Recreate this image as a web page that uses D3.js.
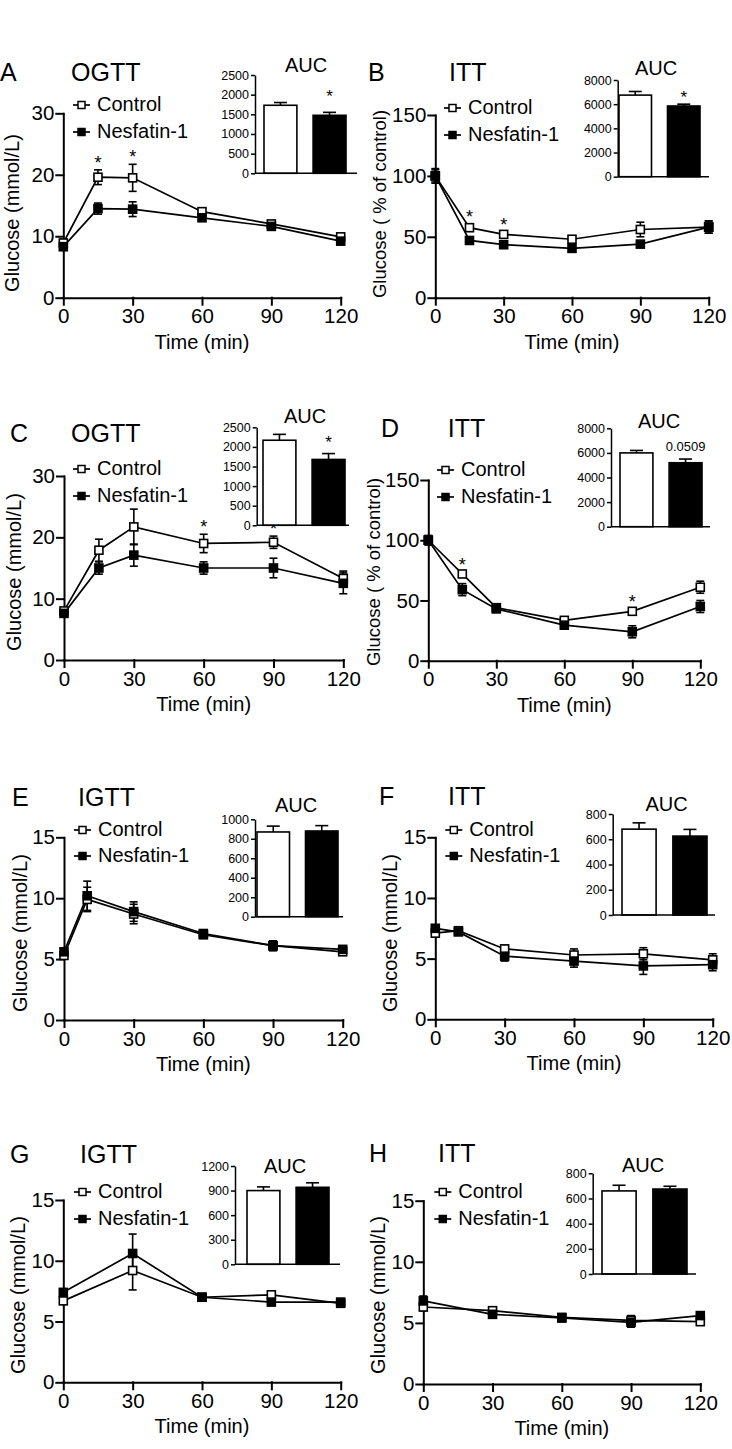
<!DOCTYPE html>
<html>
<head>
<meta charset="utf-8">
<script src="https://cdn.jsdelivr.net/npm/d3@7"></script>
<style>
  body { margin: 0; background: #fff; }
  text { font-family: "Liberation Sans", Arial, Helvetica, sans-serif; fill: #000; }
</style>
</head>
<body>
<script>
const WIDTH = 732;
const HEIGHT = 1449;

// ---- data ----
const seriesNames = ["Control", "Nesfatin-1"];

const timesA = [0, 15, 30, 60, 90, 120];
const ctrlA = [8.9, 19.6, 19.5, 14.0, 12.0, 9.9];
const ctrlErrA = [0.6, 1.2, 2.2, 0.5, 0.5, 0.5];
const nesA = [8.3, 14.5, 14.4, 13.0, 11.6, 9.2];
const nesErrA = [0.6, 0.9, 1.2, 0.5, 0.5, 0.5];
const aucA = [1730, 1475];
const aucErrA = [70, 75];
const starsA = [15, 30];

const timesB = [0, 15, 30, 60, 90, 120];
const ctrlB = [100, 57.5, 52, 48, 56, 58];
const ctrlErrB = [6, 3, 2, 2, 6, 5];
const nesB = [100, 47, 43.5, 40.5, 44, 58];
const nesErrB = [5, 2, 2, 3, 2, 5];
const aucB = [6750, 5850];
const aucErrB = [300, 150];
const starsB = [15, 30];

const timesC = [0, 15, 30, 60, 90, 120];
const ctrlC = [8.0, 17.9, 21.7, 19.0, 19.2, 13.3];
const ctrlErrC = [0.5, 1.8, 2.9, 1.5, 1.0, 1.2];
const nesC = [7.6, 15.0, 17.1, 15.0, 15.0, 12.5];
const nesErrC = [0.5, 1.0, 1.8, 1.0, 1.6, 1.7];
const aucC = [2170, 1680];
const aucErrC = [150, 150];
const starsC = [60, 90];

const timesD = [0, 15, 30, 60, 90, 120];
const ctrlD = [100, 72, 44, 33.5, 41, 61];
const ctrlErrD = [3, 2, 2, 2, 2, 5];
const nesD = [100, 59, 43, 29.5, 24, 45];
const nesErrD = [4, 5, 2, 3, 5, 5];
const aucD = [6000, 5200];
const aucErrD = [200, 300];
const starsD = [15, 90];

const timesE = [0, 10, 30, 60, 90, 120];
const ctrlE = [5.3, 9.9, 8.7, 7.0, 6.1, 5.6];
const ctrlErrE = [0.3, 1.0, 0.8, 0.3, 0.4, 0.2];
const nesE = [5.6, 10.2, 8.9, 7.1, 6.1, 5.8];
const nesErrE = [0.3, 1.2, 0.8, 0.3, 0.4, 0.2];
const aucE = [870, 880];
const aucErrE = [60, 55];

const timesF = [0, 10, 30, 60, 90, 120];
const ctrlF = [7.1, 7.3, 5.8, 5.3, 5.4, 4.9];
const ctrlErrF = [0.3, 0.2, 0.3, 0.5, 0.5, 0.5];
const nesF = [7.5, 7.2, 5.2, 4.8, 4.4, 4.5];
const nesErrF = [0.2, 0.2, 0.4, 0.5, 0.7, 0.5];
const aucF = [680, 625];
const aucErrF = [50, 53];

const timesG = [0, 30, 60, 90, 120];
const ctrlG = [6.7, 9.2, 7.0, 7.2, 6.5];
const ctrlErrG = [0.2, 1.6, 0.2, 0.3, 0.2];
const nesG = [7.4, 10.6, 7.0, 6.6, 6.6];
const nesErrG = [0.2, 1.6, 0.2, 0.2, 0.2];
const aucG = [900, 940];
const aucErrG = [45, 55];

const timesH = [0, 30, 60, 90, 120];
const ctrlH = [6.3, 6.0, 5.45, 5.2, 5.1];
const ctrlErrH = [0.3, 0.2, 0.3, 0.4, 0.2];
const nesH = [6.8, 5.7, 5.4, 5.05, 5.6];
const nesErrH = [0.4, 0.2, 0.3, 0.4, 0.2];
const aucH = [660, 675];
const aucErrH = [45, 22];

const xTicks = [0, 30, 60, 90, 120];
const mmolTicks = [0, 10, 20, 30];
const pctTicks = [0, 50, 100, 150];
const lowTicks = [0, 5, 10, 15];
const labelMmol = "Glucose (mmol/L)";
const labelPct = "Glucose ( % of control)";

const panels = [
  {letter: "A", title: "OGTT", t: timesA, c: ctrlA, ce: ctrlErrA, n: nesA, ne: nesErrA, auc: aucA, aucErr: aucErrA, stars: starsA,
   yTicks: mmolTicks, ylabel: labelMmol, aucTicks: [0, 500, 1000, 1500, 2000, 2500], aucNote: "*",
   box: {L: 63.3, R: 340.7, T: 113.3, B: 297.7}, letterPos: [0, 80.7], titlePos: [71, 80.7], ylabPos: [12, 213], leg: [73, 111, 138],
   inset: {x: 255, T: 75, B: 173.3, bx: [264, 346], end: 357, auc: [306, 72], noteGap: 17, noteSize: 17}},
  {letter: "B", title: "ITT", t: timesB, c: ctrlB, ce: ctrlErrB, n: nesB, ne: nesErrB, auc: aucB, aucErr: aucErrB, stars: starsB,
   yTicks: pctTicks, ylabel: labelPct, aucTicks: [0, 2000, 4000, 6000, 8000], aucNote: "*",
   box: {L: 435.3, R: 708.7, T: 115, B: 297.7}, letterPos: [368, 80.7], titlePos: [449, 80.7], ylabPos: [380, 204], leg: [444, 114, 141],
   inset: {x: 617.7, T: 80, B: 176.7, bx: [619, 700], end: 709, auc: [656, 75], noteGap: 8, noteSize: 17}},
  {letter: "C", title: "OGTT", t: timesC, c: ctrlC, ce: ctrlErrC, n: nesC, ne: nesErrC, auc: aucC, aucErr: aucErrC, stars: starsC,
   yTicks: mmolTicks, ylabel: labelMmol, aucTicks: [0, 500, 1000, 1500, 2000, 2500], aucNote: "*",
   box: {L: 64, R: 343.3, T: 476, B: 660}, letterPos: [10, 441.7], titlePos: [71, 441.7], ylabPos: [14, 572], leg: [73, 475, 502],
   inset: {x: 256.7, T: 427.3, B: 525.3, bx: [263, 345], end: 349, auc: [305, 423], noteGap: 13, noteSize: 17}},
  {letter: "D", title: "ITT", t: timesD, c: ctrlD, ce: ctrlErrD, n: nesD, ne: nesErrD, auc: aucD, aucErr: aucErrD, stars: starsD,
   yTicks: pctTicks, ylabel: labelPct, aucTicks: [0, 2000, 4000, 6000, 8000], aucNote: "0.0509",
   box: {L: 428.3, R: 700.3, T: 480, B: 660.7}, letterPos: [381, 436.7], titlePos: [447.7, 436.7], ylabPos: [374, 572], leg: [437, 476, 503],
   inset: {x: 611, T: 428.3, B: 526.7, bx: [620, 702], end: 710, auc: [659, 428], noteGap: 8, noteSize: 13}},
  {letter: "E", title: "IGTT", t: timesE, c: ctrlE, ce: ctrlErrE, n: nesE, ne: nesErrE, auc: aucE, aucErr: aucErrE, stars: [],
   yTicks: lowTicks, ylabel: labelMmol, aucTicks: [0, 200, 400, 600, 800, 1000], aucNote: "",
   box: {L: 64, R: 342.7, T: 837.3, B: 1020}, letterPos: [12, 806], titlePos: [78, 806], ylabPos: [20, 933], leg: [74, 836, 862],
   inset: {x: 255, T: 819.3, B: 916.7, bx: [257, 338], end: 343, auc: [296, 812], noteGap: 8, noteSize: 17}},
  {letter: "F", title: "ITT", t: timesF, c: ctrlF, ce: ctrlErrF, n: nesF, ne: nesErrF, auc: aucF, aucErr: aucErrF, stars: [],
   yTicks: lowTicks, ylabel: labelMmol, aucTicks: [0, 200, 400, 600, 800], aucNote: "",
   box: {L: 435.3, R: 712.7, T: 837.3, B: 1019.3}, letterPos: [379, 805], titlePos: [448, 805], ylabPos: [390, 933], leg: [445.3, 836, 862],
   inset: {x: 612.7, T: 814, B: 915, bx: [622, 707], end: 715, auc: [666.5, 811], noteGap: 8, noteSize: 17}},
  {letter: "G", title: "IGTT", t: timesG, c: ctrlG, ce: ctrlErrG, n: nesG, ne: nesErrG, auc: aucG, aucErr: aucErrG, stars: [],
   yTicks: lowTicks, ylabel: labelMmol, aucTicks: [0, 300, 600, 900, 1200], aucNote: "",
   box: {L: 63.3, R: 340.7, T: 1200, B: 1382.3}, letterPos: [10, 1163.3], titlePos: [80, 1163.3], ylabPos: [18, 1295], leg: [74, 1198, 1225],
   inset: {x: 235, T: 1166, B: 1264.3, bx: [247, 329], end: 340, auc: [285, 1173], noteGap: 8, noteSize: 17}},
  {letter: "H", title: "ITT", t: timesH, c: ctrlH, ce: ctrlErrH, n: nesH, ne: nesErrH, auc: aucH, aucErr: aucErrH, stars: [],
   yTicks: lowTicks, ylabel: labelMmol, aucTicks: [0, 200, 400, 600, 800], aucNote: "",
   box: {L: 423.3, R: 700.3, T: 1200.7, B: 1384}, letterPos: [369, 1161.7], titlePos: [438, 1161.7], ylabPos: [378, 1295], leg: [434.3, 1198, 1225],
   inset: {x: 592.7, T: 1173.3, B: 1274, bx: [602, 687], end: 696, auc: [643, 1172], noteGap: 8, noteSize: 17}}
];

const svg = d3.select("body").append("svg")
  .attr("width", WIDTH)
  .attr("height", HEIGHT);

svg.append("rect").attr("width", WIDTH).attr("height", HEIGHT).attr("fill", "#fff");

function errBar(g, cx, y1, y2, cap, capBoth) {
  g.append("line").attr("x1", cx).attr("x2", cx).attr("y1", y1).attr("y2", y2);
  g.append("line").attr("x1", cx - cap / 2).attr("x2", cx + cap / 2).attr("y1", y2).attr("y2", y2);
  if (capBoth) g.append("line").attr("x1", cx - cap / 2).attr("x2", cx + cap / 2).attr("y1", y1).attr("y2", y1);
}

function drawPanel(p) {
  let g = svg.append("g");
  let b = p.box;
  let x = d3.scaleLinear().domain([0, 120]).range([b.L, b.R]);
  let y = d3.scaleLinear().domain([0, d3.max(p.yTicks)]).range([b.B, b.T]);

  // letter + title
  g.append("text").attr("x", p.letterPos[0]).attr("y", p.letterPos[1]).style("font-size", "25px").text(p.letter);
  g.append("text").attr("x", p.titlePos[0]).attr("y", p.titlePos[1]).style("font-size", "25px").text(p.title);

  // axes
  let xa = g.append("g").attr("transform", `translate(0,${b.B})`)
    .call(d3.axisBottom(x).tickValues(xTicks).tickSize(7).tickPadding(4).tickSizeOuter(0));
  let ya = g.append("g").attr("transform", `translate(${b.L},0)`)
    .call(d3.axisLeft(y).tickValues(p.yTicks).tickSize(7).tickPadding(2).tickSizeOuter(0));
  [xa, ya].forEach(a => {
    a.selectAll("path,line").attr("stroke", "#000").attr("stroke-width", 2).attr("stroke-linecap", "square");
    a.selectAll("text").style("font-size", "20.5px").style("font-family", "Liberation Sans, Arial, sans-serif").attr("fill", "#000");
  });

  g.append("text").attr("x", (b.L + b.R) / 2).attr("y", b.B + 51)
    .attr("text-anchor", "middle").style("font-size", "20px").text("Time (min)");
  g.append("text").attr("transform", `translate(${p.ylabPos[0]},${p.ylabPos[1]}) rotate(-90)`)
    .attr("text-anchor", "middle").attr("dy", "0.35em")
    .style("font-size", p.ylabel === labelPct ? "18.5px" : "20px").text(p.ylabel);

  let ctrl = p.t.map((t, i) => ({t: t, v: p.c[i], e: p.ce[i]}));
  let nes = p.t.map((t, i) => ({t: t, v: p.n[i], e: p.ne[i]}));
  let line = d3.line().x(d => x(d.t)).y(d => y(d.v));

  [ctrl, nes].forEach(s => {
    g.append("path").attr("d", line(s)).attr("fill", "none").attr("stroke", "#000").attr("stroke-width", 1.7);
  });

  let eg = g.append("g").attr("stroke", "#000").attr("stroke-width", 1.6);
  [ctrl, nes].forEach(s => s.forEach(d => errBar(eg, x(d.t), y(d.v - d.e), y(d.v + d.e), 8, true)));

  let ms = 8;
  g.selectAll(".mc").data(ctrl).enter().append("rect")
    .attr("x", d => x(d.t) - ms / 2).attr("y", d => y(d.v) - ms / 2)
    .attr("width", ms).attr("height", ms)
    .attr("fill", "#fff").attr("stroke", "#000").attr("stroke-width", 1.6);
  g.selectAll(".mn").data(nes).enter().append("rect")
    .attr("x", d => x(d.t) - ms / 2).attr("y", d => y(d.v) - ms / 2)
    .attr("width", ms).attr("height", ms)
    .attr("fill", "#000").attr("stroke", "#000").attr("stroke-width", 1.6);

  // significance stars over control
  p.stars.forEach(st => {
    let d = ctrl.find(c => c.t === st);
    g.append("text").attr("x", x(d.t)).attr("y", y(d.v + d.e) - 1)
      .attr("text-anchor", "middle").style("font-size", "18px").text("*");
  });

  // legend
  let lx = p.leg[0];
  [[p.leg[1], "#fff"], [p.leg[2], "#000"]].forEach((row, i) => {
    let cy = row[0] - 6;
    g.append("line").attr("x1", lx).attr("x2", lx + 17).attr("y1", cy).attr("y2", cy)
      .attr("stroke", "#000").attr("stroke-width", 1.7);
    g.append("rect").attr("x", lx + 5).attr("y", cy - 3.5).attr("width", 7).attr("height", 7)
      .attr("fill", row[1]).attr("stroke", "#000").attr("stroke-width", 1.5);
    g.append("text").attr("x", lx + 24).attr("y", row[0]).style("font-size", "20px").text(seriesNames[i]);
  });

  // AUC inset
  let ins = p.inset;
  let yi = d3.scaleLinear().domain([0, d3.max(p.aucTicks)]).range([ins.B, ins.T]);
  let xb = d3.scaleBand().domain(seriesNames).range(ins.bx).paddingInner(0.33);
  let ia = g.append("g").attr("transform", `translate(${ins.x},0)`)
    .call(d3.axisLeft(yi).tickValues(p.aucTicks).tickFormat(d3.format("d")).tickSize(4).tickPadding(2).tickSizeOuter(0));
  ia.selectAll("path,line").attr("stroke", "#000").attr("stroke-width", 1.5);
  ia.selectAll("text").style("font-size", "12.5px").style("font-family", "Liberation Sans, Arial, sans-serif").attr("fill", "#000");

  let bars = seriesNames.map((s, i) => ({s: s, v: p.auc[i], e: p.aucErr[i]}));
  let bg = g.append("g").attr("stroke", "#000").attr("stroke-width", 1.6);
  bars.forEach(d => errBar(bg, xb(d.s) + xb.bandwidth() / 2, yi(d.v), yi(d.v + d.e), 13, false));
  g.selectAll(".bar").data(bars).enter().append("rect")
    .attr("x", d => xb(d.s)).attr("y", d => yi(d.v))
    .attr("width", xb.bandwidth()).attr("height", d => ins.B - yi(d.v))
    .attr("fill", (d, i) => i === 0 ? "#fff" : "#000")
    .attr("stroke", "#000").attr("stroke-width", 1.6);
  g.append("line").attr("x1", ins.x).attr("x2", ins.end).attr("y1", ins.B).attr("y2", ins.B)
    .attr("stroke", "#000").attr("stroke-width", 1.5);

  g.append("text").attr("x", ins.auc[0]).attr("y", ins.auc[1])
    .attr("text-anchor", "middle").style("font-size", "20px").text("AUC");
  if (p.aucNote) {
    let d = bars[1];
    g.append("text").attr("x", xb(d.s) + xb.bandwidth() / 2).attr("y", yi(d.v + d.e) - ins.noteGap + (p.aucNote === "*" ? 7 : 0))
      .attr("text-anchor", "middle").style("font-size", ins.noteSize + "px").text(p.aucNote);
  }
}

panels.forEach(drawPanel);
</script>
</body>
</html>
